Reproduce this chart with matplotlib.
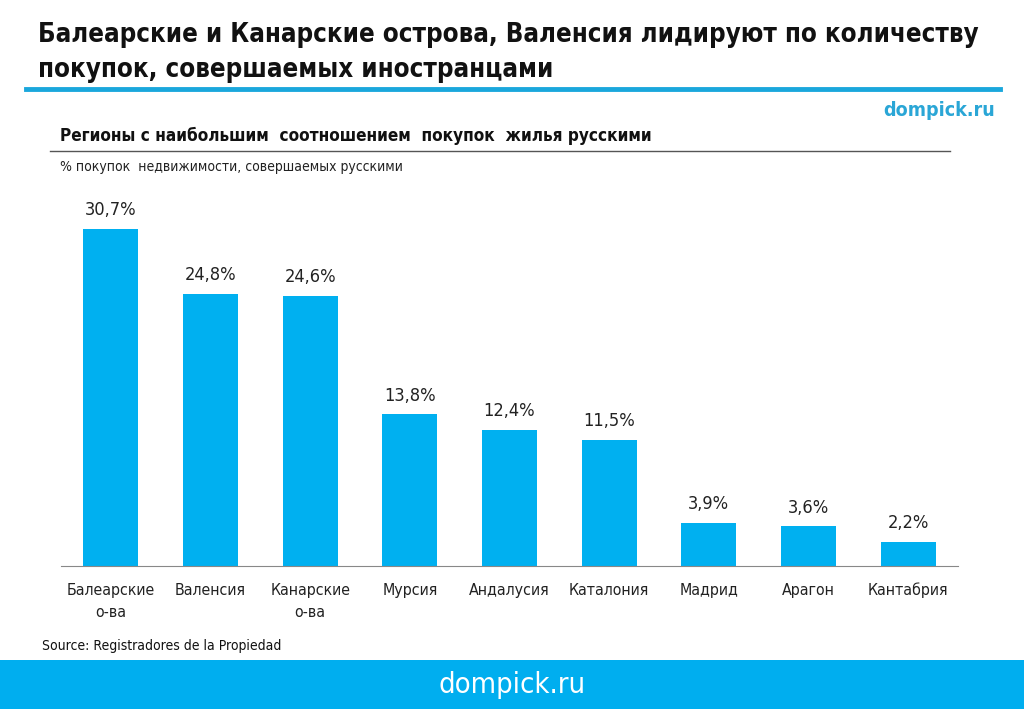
import matplotlib
matplotlib.use("Agg")
import matplotlib.pyplot as plt
from matplotlib.lines import Line2D
from matplotlib.patches import Rectangle

categories = ["Балеарские\nо-ва", "Валенсия", "Канарские\nо-ва", "Мурсия", "Андалусия",
              "Каталония", "Мадрид", "Арагон", "Кантабрия"]
values = [30.7, 24.8, 24.6, 13.8, 12.4, 11.5, 3.9, 3.6, 2.2]
value_labels = ["30,7%", "24,8%", "24,6%", "13,8%", "12,4%", "11,5%", "3,9%", "3,6%", "2,2%"]

BLUE = "#00B0F0"
plt.rcParams["font.family"] = ["DejaVu Sans"]
plt.rcParams["font.stretch"] = "condensed"

fig = plt.figure(figsize=(10.24, 7.09), dpi=100)
W, H = 1024, 709

def fx(x): return x / W
def fy(y): return 1 - y / H

fits = []  # (text artists, reference artist, target width)

t1 = fig.text(fx(38), fy(35), "Балеарские и Канарские острова, Валенсия лидируют по количеству",
              fontsize=20, fontweight="bold", va="center", ha="left", color="#111111")
t2 = fig.text(fx(38), fy(70), "покупок, совершаемых иностранцами",
              fontsize=20, fontweight="bold", va="center", ha="left", color="#111111")
fits.append(([t1, t2], t1, 977 - 38))
fig.add_artist(Line2D([fx(26), fx(1000)], [fy(89), fy(89)], color="#1AA7DC", lw=3.5))

d1 = fig.text(fx(995), fy(111), "dompick.ru", fontsize=14, fontweight="bold", color="#2AA6D6",
              ha="right", va="center")
fits.append(([d1], d1, 995 - 883))
s1 = fig.text(fx(60), fy(136), "Регионы с наибольшим  соотношением  покупок  жилья русскими",
              fontsize=12, fontweight="bold", ha="left", va="center", color="#111111")
fits.append(([s1], s1, 652 - 60))
fig.add_artist(Line2D([fx(50), fx(950)], [fy(151), fy(151)], color="#555555", lw=1))
s2 = fig.text(fx(60), fy(167), "% покупок  недвижимости, совершаемых русскими",
              fontsize=9, ha="left", va="center", color="#222222")
fits.append(([s2], s2, 404 - 60))

fig.add_artist(Rectangle((0, 0), 1, fy(660), transform=fig.transFigure, color="#00AEEF", lw=0))
b1 = fig.text(0.5, fy(685), "dompick.ru", fontsize=20, color="white", ha="center", va="center")
fits.append(([b1], b1, 585 - 438))
src = fig.text(fx(42), fy(646), "Source: Registradores de la Propiedad", fontsize=9,
               ha="left", va="center", color="#111111")
fits.append(([src], src, 283 - 42))

ax = fig.add_axes([fx(61), fy(566), fx(958) - fx(61), fy(566 - 35 * 10.98) - fy(566)])
x = range(len(categories))
ax.bar(x, values, width=0.55, color=BLUE)
ax.set_xlim(-0.5, 8.5)
ax.set_ylim(0, 35)
vl = []
for xi, v, lab in zip(x, values, value_labels):
    vl.append(ax.text(xi, v + 0.9, lab, ha="center", va="bottom", fontsize=12, color="#222222"))
fits.append((vl, vl[0], 137 - 85))
ax.set_xticks(list(x))
tl = ax.set_xticklabels(categories, fontsize=11, color="#222222", linespacing=1.6)
fits.append((tl, tl[8], 949 - 868))
ax.tick_params(axis="x", length=0, pad=12)
ax.set_yticks([])
for s in ["top", "right", "left"]:
    ax.spines[s].set_visible(False)
ax.spines["bottom"].set_color("#888888")
ax.patch.set_alpha(0)

for _ in range(2):
    fig.canvas.draw()
    r = fig.canvas.get_renderer()
    for arts, ref, target in fits:
        w = ref.get_window_extent(r).width
        fs = ref.get_fontsize() * target / w
        for a in arts:
            a.set_fontsize(fs)

fig.savefig("out.png", dpi=100)
